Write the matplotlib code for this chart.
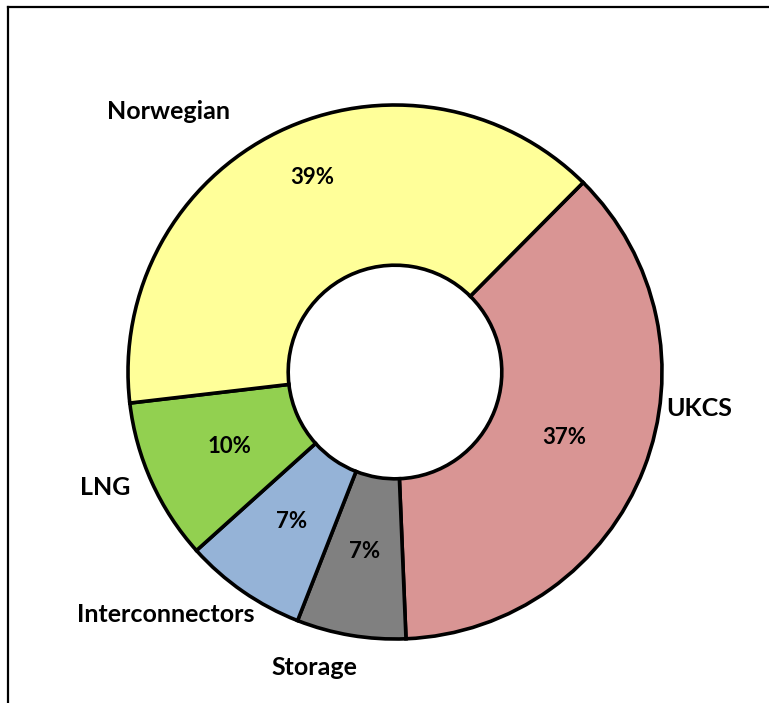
import matplotlib
matplotlib.use('Agg')
import matplotlib.pyplot as plt
from matplotlib.lines import Line2D

# Gas supply shares (%), drawn clockwise starting from the upper right
sources = ['UKCS', 'Storage', 'Interconnectors', 'LNG', 'Norwegian']
shares = [36.9, 6.6, 7.4, 9.8, 39.3]
share_labels = ['37%', '7%', '7%', '10%', '39%']
colours = ['#D99594', '#808080', '#95B3D7', '#92D050', '#FFFF99']

plt.rcParams['font.family'] = ['Lato', 'DejaVu Sans']

fig = plt.figure(figsize=(7.69, 7.03), dpi=100)
ax = fig.add_axes([0, 0, 1, 1])

wedges, texts, pct_texts = ax.pie(
    shares,
    labels=sources,
    colors=colours,
    startangle=45.2,
    counterclock=False,
    radius=1.0,
    labeldistance=1.15,
    pctdistance=0.68,
    autopct='%1.0f%%',
    wedgeprops=dict(width=0.6, edgecolor='black', linewidth=2.6),
    textprops=dict(fontsize=18, fontweight='bold', color='black'),
)

for t, s in zip(pct_texts, share_labels):
    t.set_text(s)
    t.set_fontsize(16)

# category labels were placed by hand in the original chart (baseline anchored)
label_pos = {
    'Norwegian': (-0.850, 0.948),
    'UKCS': (1.140, -0.165),
    'LNG': (-1.086, -0.461),
    'Interconnectors': (-0.858, -0.936),
    'Storage': (-0.300, -1.135),
}
for t in texts:
    t.set_position(label_pos[t.get_text()])
    t.set_ha('center')
    t.set_va('baseline')

# the Norwegian share label sits further out than the wedge centre
pct_texts[4].set_position((-0.311, 0.727))

# pixel geometry: ring centre at (395, 372), outer radius 267 px
ax.set_xlim(-395 / 267, (769 - 395) / 267)
ax.set_ylim(-(703 - 372) / 267, 372 / 267)
ax.set_aspect('auto')
ax.axis('off')

# partial frame (only the top and left edges are visible)
fig.add_artist(Line2D([8 / 769, 1], [1 - 7 / 703, 1 - 7 / 703], color='black', linewidth=1.6, transform=fig.transFigure))
fig.add_artist(Line2D([8 / 769, 8 / 769], [0, 1 - 7 / 703], color='black', linewidth=1.6, transform=fig.transFigure))

fig.savefig('out.png', dpi=100, facecolor='white')
